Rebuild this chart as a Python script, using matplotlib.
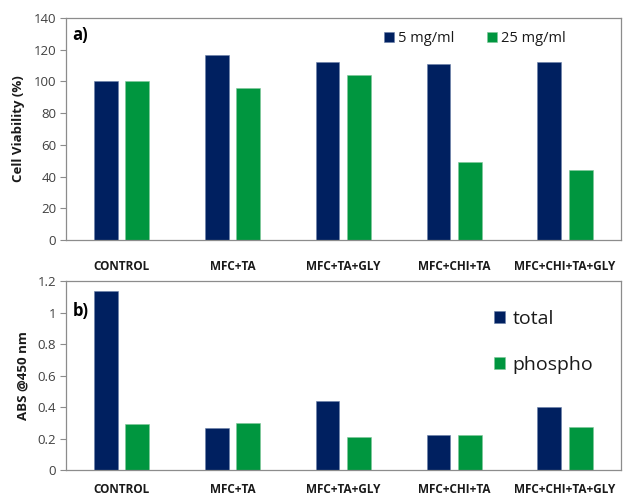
import matplotlib
matplotlib.use("Agg")
import matplotlib.pyplot as plt
import numpy as np

plt.rcParams['font.family'] = ['Open Sans', 'DejaVu Sans']

categories = ["CONTROL", "MFC+TA", "MFC+TA+GLY", "MFC+CHI+TA", "MFC+CHI+TA+GLY"]
viab_5 = [100, 117, 112, 111, 112.4]
viab_25 = [100, 95.6, 103.8, 49.4, 44]
abs_total = [1.138, 0.269, 0.438, 0.222, 0.402]
abs_phospho = [0.29, 0.296, 0.21, 0.22, 0.275]

navy = "#002060"
green = "#00963F"
grey = "#404040"
spine_c = "#8C8C8C"

fig = plt.figure(figsize=(6.26, 4.95), dpi=100)
ax1 = fig.add_axes([0.1054, 0.515, 0.886, 0.4485])
ax2 = fig.add_axes([0.1054, 0.0505, 0.886, 0.3818])

x = np.arange(len(categories))
w = 0.215
off = 0.142

def style(ax, pad):
    for s in ax.spines.values():
        s.set_color(spine_c)
        s.set_linewidth(0.9)
    ax.tick_params(axis='y', colors=grey, labelsize=9.5, length=4, color=spine_c, pad=3)
    ax.tick_params(axis='x', length=0, pad=pad, labelsize=8.5)
    ax.set_xlim(-0.5, len(categories) - 0.5)
    ax.set_xticks(x)
    ax.set_xticklabels(categories, fontweight='bold', color='#1a1a1a')

ax1.bar(x - off, viab_5, w, color=navy, label="5 mg/ml", edgecolor='#6a7fa8', linewidth=0.4)
ax1.bar(x + off, viab_25, w, color=green, label="25 mg/ml", edgecolor='#7fc79a', linewidth=0.4)
ax1.set_ylim(0, 140)
ax1.set_yticks(range(0, 141, 20))
style(ax1, 14)
ax1.set_ylabel("Cell Viability (%)", fontweight='bold', fontsize=9.5, color='#1a1a1a', labelpad=6)
ax1.text(0.012, 0.925, "a)", transform=ax1.transAxes, fontsize=12, fontweight='bold', va='center')
ax1.legend(loc='upper right', bbox_to_anchor=(0.925, 1.0), ncol=2, frameon=False, fontsize=10.5,
           handlelength=0.7, handleheight=0.7, handletextpad=0.3, columnspacing=2.2,
           labelcolor='#1a1a1a')

ax2.bar(x - off, abs_total, w, color=navy, label="total", edgecolor='#6a7fa8', linewidth=0.4)
ax2.bar(x + off, abs_phospho, w, color=green, label="phospho", edgecolor='#7fc79a', linewidth=0.4)
ax2.set_ylim(0, 1.2)
ax2.set_yticks([0, 0.2, 0.4, 0.6, 0.8, 1.0, 1.2])
ax2.set_yticklabels(["0", "0.2", "0.4", "0.6", "0.8", "1", "1.2"])
style(ax2, 9)
ax2.set_ylabel("ABS @450 nm", fontweight='bold', fontsize=9.5, color='#1a1a1a', labelpad=6)
ax2.text(0.012, 0.84, "b)", transform=ax2.transAxes, fontsize=12, fontweight='bold', va='center')
ax2.legend(loc='upper left', bbox_to_anchor=(0.74, 0.94), ncol=1, frameon=False, fontsize=14,
           handlelength=0.55, handleheight=0.55, handletextpad=0.4, labelspacing=1.45,
           labelcolor='#1a1a1a')

fig.savefig("out.png", dpi=100)
